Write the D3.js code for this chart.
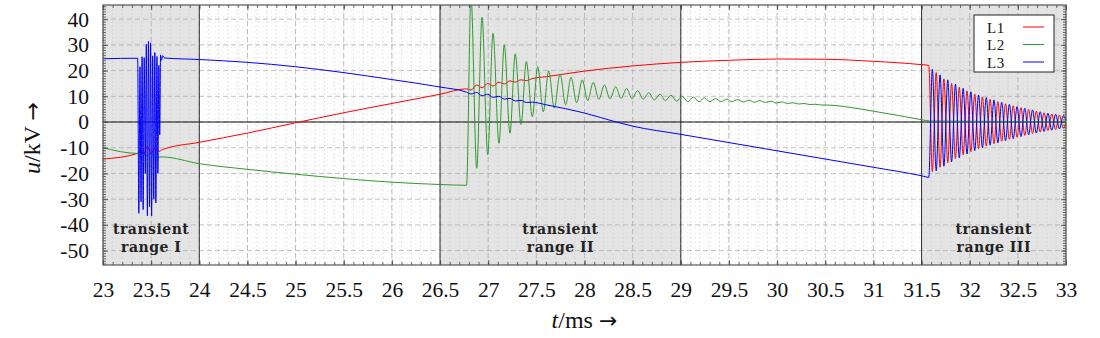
<!DOCTYPE html>
<html><head><meta charset="utf-8">
<script src="https://cdn.jsdelivr.net/npm/d3@7"></script>
<style>body{margin:0;background:#fff}</style>
</head><body><svg id="c" width="1100" height="338"></svg>
<script>
// ---------- data ----------
const xTicks = [23,23.5,24,24.5,25,25.5,26,26.5,27,27.5,28,28.5,29,29.5,30,30.5,31,31.5,32,32.5,33];
const xTickLabels = ["23","23.5","24","24.5","25","25.5","26","26.5","27","27.5","28","28.5","29","29.5","30","30.5","31","31.5","32","32.5","33"];
const yTicks = [-50,-40,-30,-20,-10,0,10,20,30,40];
const yTickLabels = ["-50","-40","-30","-20","-10","0","10","20","30","40"];
const transientRanges = [[23,24],[26.5,29],[31.5,33]];
const rangeLabels = [["transient","range I"],["transient","range II"],["transient","range III"]];
const boundaries = [24,26.5,29,31.5];
const seriesNames = ["L1","L2","L3"];
const seriesColors = ["#ff0000","#2f9a2f","#0000ff"];

// L1 (red)
const l1Pre = [[23,-14.4],[23.36,-12.2],[23.39,-10.8],[23.42,-12.6],[23.46,-9.5],[23.5,-12.3],[23.54,-10.0],[23.58,-11.4],[23.62,-10.7],[24,-7.9],[24.5,-4.3],[25,-0.3],[25.5,3.6],[26,7.2],[26.5,10.8],[26.775,12.9]];
const l1RippleII = [[26.821,12.4],[26.881,14.4],[26.936,13.3],[26.995,15.0],[27.05,14.0],[27.112,15.5],[27.167,14.8],[27.226,16.0],[27.281,15.5],[27.341,16.4],[27.396,16.1],[27.458,16.9]];
const l1Mid = [[27.6,17.6],[28,19.8],[28.5,21.8],[29,23.2],[29.5,24.0],[30,24.5],[30.5,24.4],[31,23.6],[31.5,22.3],[31.575,22.0]];
const l1OscIII = [[31.612,-19.3],[31.652,19.2],[31.692,-17.6],[31.732,16.8],[31.772,-15.8],[31.812,15.0],[31.852,-14.2],[31.892,13.5],[31.932,-12.7],[31.972,12.1],[32.012,-11.5],[32.052,10.9],[32.092,-10.3],[32.132,9.8],[32.172,-9.3],[32.212,8.8],[32.252,-8.4],[32.292,7.9],[32.332,-7.5],[32.372,7.1],[32.412,-6.7],[32.452,6.3],[32.492,-5.9],[32.532,5.6],[32.572,-5.2],[32.612,4.9],[32.652,-4.5],[32.692,4.2],[32.732,-3.9],[32.772,3.6],[32.812,-3.3],[32.852,3.1],[32.892,-2.9],[32.932,2.7],[32.972,-2.4],[33,0]];

// L2 (green)
const l2Pre = [[23,-10],[23.36,-12.2],[23.4,-11.6],[23.45,-13.2],[23.5,-12.2],[23.55,-13.6],[23.62,-13.6],[24,-16.2],[24.5,-18.4],[25,-20.3],[25.5,-22],[26,-23.4],[26.5,-24.3],[26.775,-24.6]];
const l2OscII = [[26.821,49],[26.881,-18],[26.936,40.8],[26.995,-12.8],[27.05,34.5],[27.112,-8.3],[27.167,30],[27.226,-4.4],[27.281,26.5],[27.341,-0.9],[27.396,23.5],[27.458,2.1],[27.514,21.5],[27.572,4.0],[27.628,19.9],[27.686,5.4],[27.746,18.7],[27.804,6.7],[27.86,17.4],[27.919,7.5],[27.977,16.4],[28.033,8.3],[28.091,15.4],[28.15,8.8],[28.206,14.4],[28.265,9.0],[28.324,13.7],[28.38,9.2],[28.437,13.0],[28.494,9.1],[28.551,12.2],[28.61,8.9],[28.667,11.4],[28.725,8.6],[28.784,10.8],[28.84,8.3],[28.898,10.4],[28.957,8.1],[29.016,10.0],[29.073,7.9],[29.13,9.7],[29.19,7.9],[29.245,9.4],[29.3,7.9],[29.36,9.1],[29.42,7.9],[29.475,8.9],[29.53,7.9],[29.59,8.7],[29.65,7.8],[29.706,8.5],[29.76,7.7],[29.82,8.3],[29.88,7.6],[29.935,8.1],[29.99,7.4],[30.05,7.8],[30.11,7.2],[30.165,7.5],[30.22,7.0],[30.28,7.2],[30.34,6.8],[30.4,6.9],[30.46,6.6],[30.51,6.6]];
const l2Post = [[30.7,6.0],[31,4.2],[31.25,2.6],[31.5,0.9],[31.58,0.4],[32,0.3],[32.5,0.2],[33,0.2]];

// L3 (blue)
const l3Pre = [[23,24.6],[23.36,24.8],[23.372,-35.5],[23.384,21.5],[23.395,-31],[23.406,25.4],[23.417,-34],[23.428,25],[23.439,-20],[23.45,30.2],[23.461,-36.5],[23.472,31.3],[23.483,-33],[23.494,30.8],[23.505,-36.5],[23.516,25.7],[23.527,-30],[23.538,27],[23.549,-31.5],[23.56,25.5],[23.57,-20],[23.58,22],[23.589,-5],[23.598,26],[23.607,24],[23.62,25.8],[23.64,24.9],[24,24.3],[24.5,23.2],[25,21.5],[25.5,19.2],[26,16.5],[26.5,13.6],[26.775,11.6]];
const l3RippleII = [[26.821,10.9],[26.881,11.5],[26.936,10.2],[26.995,10.8],[27.05,9.6],[27.112,10.0],[27.167,8.9],[27.226,9.2],[27.281,8.2],[27.341,8.4],[27.396,7.6],[27.458,7.7]];
const l3Mid = [[27.6,6.7],[28,3.5],[28.33,0],[28.5,-1.6],[29,-4.8],[29.5,-8.0],[30,-11.2],[30.5,-14.4],[31,-17.6],[31.5,-20.9],[31.575,-21.5]];
const l3OscIII = [[31.612,20.5],[31.652,-19.0],[31.692,18.3],[31.732,-17.2],[31.772,16.4],[31.812,-15.5],[31.852,14.7],[31.892,-13.9],[31.932,13.1],[31.972,-12.4],[32.012,11.8],[32.052,-11.1],[32.092,10.5],[32.132,-10.0],[32.172,9.5],[32.212,-9.0],[32.252,8.6],[32.292,-8.1],[32.332,7.7],[32.372,-7.3],[32.412,6.9],[32.452,-6.5],[32.492,6.0],[32.532,-5.7],[32.572,5.4],[32.612,-5.0],[32.652,4.7],[32.692,-4.3],[32.732,4.0],[32.772,-3.7],[32.812,3.4],[32.852,-3.2],[32.892,3.0],[32.932,-2.7],[32.972,2.5],[33,0.5]];

const series = [
  l1Pre.concat(l1RippleII, l1Mid, l1OscIII),
  l2Pre.concat(l2OscII, l2Post),
  l3Pre.concat(l3RippleII, l3Mid, l3OscIII)
];

// ---------- layout ----------
const svg = d3.select("#c");
const L = 103, R = 1066, T = 5, B = 265;
const x = d3.scaleLinear().domain([23,33]).range([L,R]);
const y = d3.scaleLinear().domain([-55.6,45.5]).range([B,T]);
const serif = "'Liberation Serif','Times New Roman',serif";
const arrowFont = "'DejaVu Sans',sans-serif";

svg.append("defs").append("clipPath").attr("id","clip")
  .append("rect").attr("x",L).attr("y",T).attr("width",R-L).attr("height",B-T);

// shaded transient ranges
svg.append("g").selectAll("rect").data(transientRanges).join("rect")
  .attr("x",d=>x(d[0])).attr("y",T).attr("width",d=>x(d[1])-x(d[0])).attr("height",B-T)
  .attr("fill","#e4e4e4");

// minor grid
const xMinor = d3.range(230,331).map(v=>v/10);
const yMinor = d3.range(-55,46,2);
const grid = svg.append("g");
grid.selectAll(".vm").data(xMinor).join("line")
  .attr("x1",d=>x(d)).attr("x2",d=>x(d)).attr("y1",T).attr("y2",B)
  .attr("stroke","#c8c8c8").attr("stroke-width",0.7).attr("stroke-dasharray","1.5,2.5");
grid.selectAll(".hm").data(yMinor).join("line")
  .attr("x1",L).attr("x2",R).attr("y1",d=>y(d)).attr("y2",d=>y(d))
  .attr("stroke","#d8d8d8").attr("stroke-width",0.6).attr("stroke-dasharray","1,3");
// major grid
grid.selectAll(".vM").data(xTicks).join("line")
  .attr("x1",d=>x(d)).attr("x2",d=>x(d)).attr("y1",T).attr("y2",B)
  .attr("stroke","#b0b0b0").attr("stroke-width",0.8).attr("stroke-dasharray","5,3");
grid.selectAll(".hM").data(yTicks).join("line")
  .attr("x1",L).attr("x2",R).attr("y1",d=>y(d)).attr("y2",d=>y(d))
  .attr("stroke","#b0b0b0").attr("stroke-width",0.8).attr("stroke-dasharray","5,3");

// boundaries and zero line
svg.append("g").selectAll("line").data(boundaries).join("line")
  .attr("x1",d=>x(d)).attr("x2",d=>x(d)).attr("y1",T).attr("y2",B)
  .attr("stroke","#333").attr("stroke-width",1);
svg.append("line").attr("x1",L).attr("x2",R).attr("y1",y(0)).attr("y2",y(0))
  .attr("stroke","#111").attr("stroke-width",1);

// range labels
const rl = svg.append("g").attr("font-family","'DejaVu Serif',serif").attr("font-weight","bold")
  .attr("font-size","14px").attr("letter-spacing","0.5px").attr("fill","#222").attr("text-anchor","middle");
transientRanges.forEach((r,i)=>{
  const cx = (x(r[0])+x(r[1]))/2;
  rl.append("text").attr("x",cx).attr("y",234).text(rangeLabels[i][0]);
  rl.append("text").attr("x",cx).attr("y",251.5).text(rangeLabels[i][1]);
});

// series
const line = d3.line().x(d=>x(d[0])).y(d=>y(d[1])).curve(d3.curveMonotoneX);
svg.append("g").attr("clip-path","url(#clip)").selectAll("path").data(series).join("path")
  .attr("d",line).attr("fill","none").attr("stroke",(d,i)=>seriesColors[i]).attr("stroke-width",1);

// axes (ticks inward on all sides)
const fr = svg.append("g");
fr.append("g").attr("transform",`translate(0,${B})`)
  .call(d3.axisBottom(x).tickValues(xMinor).tickSize(-3).tickFormat(""));
fr.append("g").attr("transform",`translate(0,${B})`)
  .call(d3.axisBottom(x).tickValues(xTicks).tickSize(-5).tickPadding(17).tickFormat((d,i)=>xTickLabels[i]));
fr.append("g").attr("transform",`translate(0,${T})`)
  .call(d3.axisTop(x).tickValues(xMinor).tickSize(-3).tickFormat(""));
fr.append("g").attr("transform",`translate(0,${T})`)
  .call(d3.axisTop(x).tickValues(xTicks).tickSize(-5).tickFormat(""));
const yMinorT = d3.range(-55,46,1);
fr.append("g").attr("transform",`translate(${L},0)`)
  .call(d3.axisLeft(y).tickValues(yMinorT).tickSize(-3).tickFormat(""));
fr.append("g").attr("transform",`translate(${L},0)`)
  .call(d3.axisLeft(y).tickValues(yTicks).tickSize(-5).tickPadding(14).tickFormat((d,i)=>yTickLabels[i]));
fr.append("g").attr("transform",`translate(${R},0)`)
  .call(d3.axisRight(y).tickValues(yMinorT).tickSize(-3).tickFormat(""));
fr.append("g").attr("transform",`translate(${R},0)`)
  .call(d3.axisRight(y).tickValues(yTicks).tickSize(-5).tickFormat(""));
fr.selectAll(".domain").remove();
fr.selectAll(".tick line").attr("stroke","#444").attr("stroke-width",0.8);
fr.selectAll("text").attr("font-family",serif).attr("font-size","21.5px").attr("fill","#111");

svg.append("rect").attr("x",L).attr("y",T).attr("width",R-L).attr("height",B-T)
  .attr("fill","none").attr("stroke","#555").attr("stroke-width",1.2);

// axis titles
const xt = svg.append("text").attr("x",(L+R)/2).attr("y",328).attr("text-anchor","middle")
  .attr("font-family",serif).attr("font-size","24px").attr("fill","#111");
xt.append("tspan").attr("font-style","italic").text("t");
xt.append("tspan").text("/ms ");
xt.append("tspan").attr("font-family",arrowFont).attr("font-size","22px").text("\u2192");
const yt = svg.append("text").attr("transform",`translate(40,${(T+B)/2+3}) rotate(-90)`).attr("text-anchor","middle")
  .attr("font-family",serif).attr("font-size","24px").attr("fill","#111");
yt.append("tspan").attr("font-style","italic").text("u");
yt.append("tspan").text("/kV ");
yt.append("tspan").attr("font-family",arrowFont).attr("font-size","22px").text("\u2192");

// legend
const lg = svg.append("g");
lg.append("rect").attr("x",974).attr("y",15).attr("width",80).attr("height",57)
  .attr("fill","#fff").attr("stroke","#222").attr("stroke-width",1);
seriesNames.forEach((n,i)=>{
  const cy = 27 + i*17.5;
  lg.append("text").attr("x",987).attr("y",cy+5.5).attr("font-family",serif).attr("font-size","15px")
    .attr("letter-spacing","0.6px").attr("fill","#111").text(n);
  lg.append("line").attr("x1",1023).attr("x2",1044).attr("y1",cy).attr("y2",cy)
    .attr("stroke",seriesColors[i]).attr("stroke-width",1);
});
</script></body></html>
